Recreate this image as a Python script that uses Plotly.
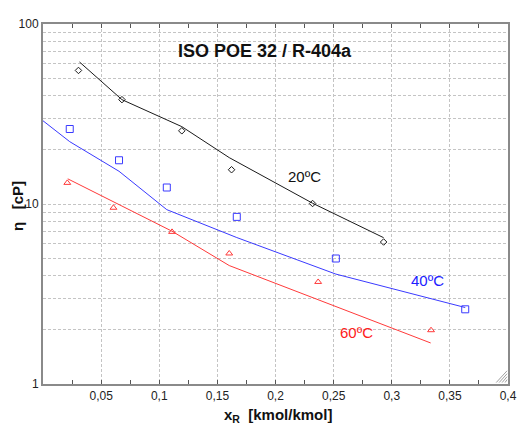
import plotly.graph_objects as go
import math

# ---- data ----
x20_pts = [0.0305, 0.0679, 0.1194, 0.1622, 0.2319, 0.2930]
y20_pts = [55.2, 38.0, 25.5, 15.5, 10.06, 6.15]
x20_fit = [0.0314, 0.0679, 0.1194, 0.1602, 0.2319, 0.2930]
y20_fit = [61.5, 38.0, 26.9, 18.1, 10.1, 6.5]

x40_pts = [0.0230, 0.0654, 0.1065, 0.1667, 0.2519, 0.3632]
y40_pts = [26.1, 17.5, 12.35, 8.48, 4.98, 2.60]
x40_fit = [0.0, 0.0230, 0.0654, 0.1065, 0.1667, 0.2519, 0.3632]
y40_fit = [29.0, 22.2, 15.2, 9.3, 6.51, 4.08, 2.66]

x60_pts = [0.0209, 0.0606, 0.1110, 0.1602, 0.2367, 0.3338]
y60_pts = [13.1, 9.53, 7.0, 5.31, 3.69, 1.99]
x60_fit = [0.0213, 0.0606, 0.1110, 0.1602, 0.2367, 0.3335]
y60_fit = [13.8, 10.3, 7.06, 4.55, 2.94, 1.69]

x_tickvals = [0.05, 0.1, 0.15, 0.2, 0.25, 0.3, 0.35, 0.4]
x_ticktext = ["0,05", "0,1", "0,15", "0,2", "0,25", "0,3", "0,35", "0,4"]
y_tickvals = [1, 2, 3, 4, 5, 6, 7, 8, 9, 10, 20, 30, 40, 50, 60, 70, 80, 90, 100]
y_ticktext = ["1", " ", " ", " ", " ", " ", " ", " ", " ", "10", " ", " ", " ", " ", " ", " ", " ", " ", "100"]

BLACK = "#1a1a1a"
BLUE = "#3a3aff"
RED = "#ff3a3a"
FONT = "Arial, Liberation Sans, sans-serif"

fig = go.Figure()

fig.add_trace(go.Scatter(x=x20_fit, y=y20_fit, mode="lines", line=dict(color=BLACK, width=1)))
fig.add_trace(go.Scatter(x=x20_pts, y=y20_pts, mode="markers",
                         marker=dict(symbol="diamond-open", size=5, color=BLACK, line=dict(width=1))))
fig.add_trace(go.Scatter(x=x40_fit, y=y40_fit, mode="lines", line=dict(color=BLUE, width=1)))
fig.add_trace(go.Scatter(x=x40_pts, y=y40_pts, mode="markers",
                         marker=dict(symbol="square-open", size=7, color=BLUE, line=dict(width=1))))
fig.add_trace(go.Scatter(x=x60_fit, y=y60_fit, mode="lines", line=dict(color=RED, width=1)))
fig.add_trace(go.Scatter(x=x60_pts, y=y60_pts, mode="markers",
                         marker=dict(symbol="triangle-up-open", size=6, color=RED, line=dict(width=1))))

annos = [
    dict(x=0.191, y=math.log10(70.4), text="<b>ISO POE 32 / R-404a</b>", font=dict(size=18, color="#111")),
    dict(x=0.225, y=math.log10(14.3), text="20ºC", font=dict(size=15, color="#111")),
    dict(x=0.331, y=math.log10(3.74), text="40ºC", font=dict(size=15, color="#2020ff")),
    dict(x=0.270, y=math.log10(1.94), text="60ºC", font=dict(size=15, color="#ff2020")),
]
for a in annos:
    fig.add_annotation(xref="x", yref="y", showarrow=False, xanchor="center", yanchor="middle",
                       **a)

# page body has an 8px margin: plot area spans x 43..517, y 17..384 in the window
PW, PH = 474, 367
fig.add_annotation(xref="paper", yref="paper", x=(283 - 43) / PW, y=-(416 - 384) / PH,
                   text="<b>x<sub>R</sub>&nbsp; [kmol/kmol]</b>", showarrow=False,
                   xanchor="center", yanchor="middle", font=dict(size=15, color="#111"))
fig.add_annotation(xref="paper", yref="paper", x=-(43 - 17) / PW, y=(384 - 202) / PH,
                   text="<b>η&nbsp;&nbsp; [cP]</b>", showarrow=False, textangle=-90,
                   xanchor="center", yanchor="middle", font=dict(size=15, color="#111"))

# small resize grip in the bottom-right corner
for k in range(4):
    d = (3 + 3 * k) / PW
    fig.add_shape(type="line", xref="paper", yref="paper",
                  x0=1 - d, y0=0.004, x1=1 - 0.002, y1=0.004 + d * PW / PH,
                  line=dict(color="#a0a0a0", width=1))

fig.update_layout(
    width=518, height=421,
    margin=dict(l=35, r=9, t=9, b=45),
    paper_bgcolor="white", plot_bgcolor="white",
    showlegend=False,
    font=dict(family=FONT, size=12, color="#222"),
    xaxis=dict(range=[0, 0.4], tickvals=x_tickvals, ticktext=x_ticktext,
               showgrid=True, gridcolor="#c4c4c4", griddash="3px,2px", gridwidth=1,
               showline=True, linecolor="#8a8a8a", linewidth=2,
               ticks="inside", ticklen=4, tickcolor="#555",
               minor=dict(dtick=0.025, ticks="inside", ticklen=4, tickcolor="#555", showgrid=False),
               mirror="allticks", zeroline=False, tickfont=dict(size=12)),
    yaxis=dict(type="log", range=[0, 2], tickvals=y_tickvals, ticktext=y_ticktext,
               showgrid=True, gridcolor="#c4c4c4", griddash="3px,2px", gridwidth=1,
               showline=True, linecolor="#8a8a8a", linewidth=2, mirror=True,
               ticks="", zeroline=False, tickfont=dict(size=12)),
)

fig.write_html("out.html")
